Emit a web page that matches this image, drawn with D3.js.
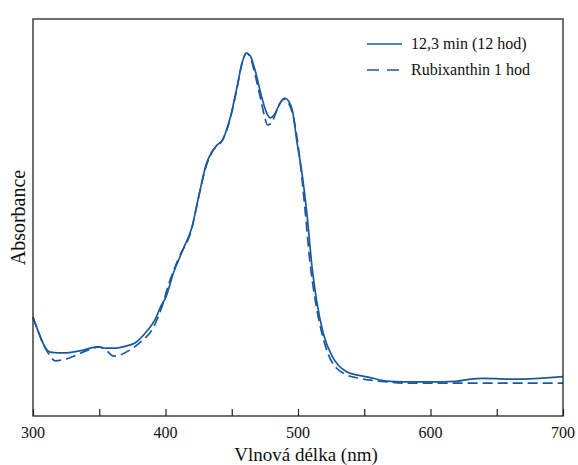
<!DOCTYPE html>
<html>
<head>
<meta charset="utf-8">
<title>Absorbance</title>
<script src="https://cdn.jsdelivr.net/npm/d3@7"></script>
<style>
body { margin: 0; background: #fff; }
</style>
</head>
<body>
<script>
// wavelengths (nm) and absorbance (arbitrary units)
var wlSolid = [300,305,309,313,319,323,335,349,355,362,370,377,386,392,397,400,406,413,420,424.5,431,436,439,443,446,449,454,458,461,464,467.5,472.8,476,479,482,485,490,493,496,499,503,507,510.6,514,519,526,531,537,545,553,567,580,608,619,630,640,658,669,700];
var absSolid = [0.249,0.204,0.174,0.161,0.159,0.159,0.164,0.174,0.171,0.171,0.176,0.184,0.214,0.242,0.280,0.297,0.360,0.418,0.476,0.544,0.637,0.670,0.683,0.695,0.720,0.753,0.829,0.892,0.914,0.907,0.872,0.801,0.766,0.751,0.758,0.778,0.801,0.793,0.766,0.695,0.612,0.501,0.375,0.292,0.209,0.149,0.126,0.111,0.103,0.098,0.088,0.086,0.086,0.087,0.093,0.095,0.093,0.093,0.099];

var wlDash = [300,303,307,311,317,322,331,340,350,355,361,366,372,381,391,397,403,410,420,424.5,431,436,439,443,446,449,454,458,461,464,467.5,472,475,477,480,483,486,490,493,497,501,505,509,513,518,523,529,535,545,553,567,580,608,636,700];
var absDash = [0.247,0.222,0.186,0.161,0.139,0.141,0.151,0.164,0.174,0.166,0.151,0.154,0.164,0.186,0.224,0.272,0.338,0.398,0.474,0.544,0.632,0.670,0.680,0.695,0.718,0.751,0.826,0.892,0.914,0.904,0.861,0.796,0.751,0.733,0.738,0.761,0.786,0.798,0.788,0.746,0.657,0.531,0.388,0.292,0.209,0.154,0.121,0.106,0.096,0.091,0.086,0.083,0.083,0.083,0.083];

var seriesNames = ["12,3 min (12 hod)", "Rubixanthin 1 hod"];
var xTicks = [300,350,400,450,500,550,600,650,700];
var xTickLabels = ["300","400","500","600","700"];

var width = 578, height = 465;
var margin = {left: 33, right: 15, top: 19, bottom: 49};
var lineColor = "#1b599e";
var serif = "'Liberation Serif', 'DejaVu Serif', serif";

var svg = d3.select("body").append("svg")
    .attr("width", width)
    .attr("height", height)
    .attr("font-family", serif);

var x = d3.scaleLinear().domain([300, 700]).range([margin.left, width - margin.right]);
var y = d3.scaleLinear().domain([0, 1]).range([height - margin.bottom, margin.top]);

function toPoints(wl, ab){
	return wl.map(function(w, i){ return {x: w, y: ab[i]}; });
}

var line = d3.line()
    .x(function(d){ return x(d.x); })
    .y(function(d){ return y(d.y); })
    .curve(d3.curveMonotoneX);

// curves
svg.append("path")
    .datum(toPoints(wlDash, absDash))
    .attr("d", line)
    .attr("fill", "none")
    .attr("stroke", lineColor)
    .attr("stroke-width", 1.7)
    .attr("stroke-dasharray", "10,5");

svg.append("path")
    .datum(toPoints(wlSolid, absSolid))
    .attr("d", line)
    .attr("fill", "none")
    .attr("stroke", lineColor)
    .attr("stroke-width", 1.7);

// x axis with inward ticks
var xAxis = d3.axisTop(x)
    .tickValues(xTicks)
    .tickSize(7)
    .tickFormat("");
var gx = svg.append("g")
    .attr("transform", "translate(0," + y(0) + ")")
    .call(xAxis);
gx.select(".domain").remove();
gx.selectAll("line").attr("stroke", "#222").attr("stroke-width", 1.2);

svg.selectAll("text.xlab")
    .data(xTickLabels).enter().append("text")
    .attr("class", "xlab")
    .attr("x", function(d){ return x(+d); })
    .attr("y", y(0) + 22)
    .attr("text-anchor", "middle")
    .attr("font-size", "16px")
    .attr("fill", "#111")
    .text(function(d){ return d; });

// frame
svg.append("rect")
    .attr("x", x(300))
    .attr("y", y(1))
    .attr("width", x(700) - x(300))
    .attr("height", y(0) - y(1))
    .attr("fill", "none")
    .attr("stroke", "#222")
    .attr("stroke-width", 1.3);

// axis titles
svg.append("text")
    .attr("x", 306)
    .attr("y", 461)
    .attr("text-anchor", "middle")
    .attr("font-size", "19px")
    .attr("fill", "#111")
    .text("Vlnová délka (nm)");

svg.append("text")
    .attr("transform", "translate(25," + ((y(0) + y(1)) / 2) + ") rotate(-90)")
    .attr("text-anchor", "middle")
    .attr("font-size", "20px")
    .attr("fill", "#111")
    .text("Absorbance");

// legend
var legend = svg.selectAll("g.legend")
    .data(seriesNames).enter().append("g")
    .attr("class", "legend")
    .attr("transform", function(d, i){ return "translate(367," + (44 + i * 26) + ")"; });

legend.append("line")
    .attr("x1", 0).attr("x2", 35)
    .attr("y1", 0).attr("y2", 0)
    .attr("stroke", lineColor)
    .attr("stroke-width", 1.7)
    .attr("stroke-dasharray", function(d, i){ return i == 1 ? "12,8" : null; });

legend.append("text")
    .attr("x", 44)
    .attr("y", 5)
    .attr("font-size", "16px")
    .attr("fill", "#111")
    .text(function(d){ return d; });
</script>
</body>
</html>
